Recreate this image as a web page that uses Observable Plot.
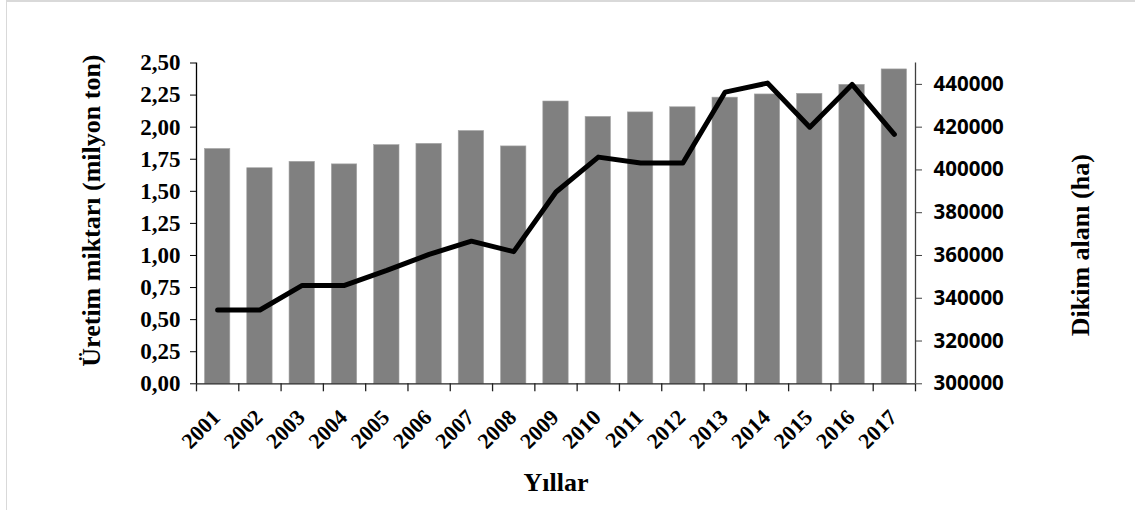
<!DOCTYPE html>
<html>
<head>
<meta charset="utf-8">
<script src="https://cdn.jsdelivr.net/npm/d3@7"></script>
<script src="https://cdn.jsdelivr.net/npm/@observablehq/plot@0.6"></script>
<style>
  html, body { margin: 0; padding: 0; background: #fff; }
  #wrap { position: relative; width: 1135px; height: 510px; }
  #border { position: absolute; left: 6px; top: 0; width: 1129px; height: 510px;
            border-left: 1.5px solid #d9d9d9; border-top: 2px solid #d9d9d9; box-sizing: border-box; pointer-events: none; }
</style>
</head>
<body>
<div id="wrap"><div id="border"></div></div>
<script>
const years = [2001, 2002, 2003, 2004, 2005, 2006, 2007, 2008, 2009, 2010, 2011, 2012, 2013, 2014, 2015, 2016, 2017];
const production = [1.83, 1.68, 1.73, 1.71, 1.86, 1.87, 1.97, 1.85, 2.20, 2.08, 2.115, 2.155, 2.23, 2.255, 2.26, 2.33, 2.45];
const area = [334500, 334500, 346000, 346000, 353000, 360500, 366700, 361800, 389700, 406000, 403200, 403200, 436400, 440600, 420000, 440000, 416600];
const leftTicks = [0, 0.25, 0.5, 0.75, 1, 1.25, 1.5, 1.75, 2, 2.25, 2.5];
const rightTicks = [300000, 320000, 340000, 360000, 380000, 400000, 420000, 440000];
const leftDomain = [0, 2.5];
const rightDomain = [300000, 450000];

const leftTitle = "Üretim miktarı (milyon ton)";
const rightTitle = "Dikim alanı (ha)";
const xTitle = "Yıllar";

// map right-axis values into the left (primary) y domain
const toY = v => (v - rightDomain[0]) / (rightDomain[1] - rightDomain[0]) * (leftDomain[1] - leftDomain[0]) + leftDomain[0];
const fromY = y => (y - leftDomain[0]) / (leftDomain[1] - leftDomain[0]) * (rightDomain[1] - rightDomain[0]) + rightDomain[0];

const data = years.map((year, i) => ({year, prod: production[i], area: area[i]}));
const boundaries = [years[0] - 0.5, ...years.map(y => y + 0.5)];
const xDomain = [years[0] - 0.5, years[years.length - 1] + 0.5];

const serif = "'Liberation Serif', 'Times New Roman', serif";
const sans = "'Open Sans', 'Noto Sans', sans-serif";

const chart = Plot.plot({
  width: 1135,
  height: 510,
  marginLeft: 196,
  marginRight: 220,
  marginTop: 62.5,
  marginBottom: 126.7,
  x: {type: "linear", domain: xDomain},
  y: {domain: leftDomain},
  style: {background: "transparent", overflow: "visible"},
  marks: [
    Plot.rectY(data, {x1: d => d.year - 0.3, x2: d => d.year + 0.3, y1: 0, y2: "prod", fill: "#808080", stroke: "#a6a6a6", strokeWidth: 0.6}),
    Plot.ruleY([0], {stroke: "#222", strokeWidth: 1.3}),
    Plot.ruleX([xDomain[0]], {y1: leftDomain[0], y2: leftDomain[1], stroke: "#000", strokeWidth: 1.3}),
    Plot.ruleX([xDomain[1]], {y1: leftDomain[0], y2: leftDomain[1], stroke: "#404040", strokeWidth: 1.3}),
    Plot.line(data, {x: "year", y: d => toY(d.area), stroke: "#000", strokeWidth: 5, strokeLinejoin: "round", strokeLinecap: "round"}),
    Plot.axisX({ticks: boundaries, tickSize: 8, tickFormat: () => "", label: null, stroke: "#222", strokeWidth: 1.3}),
    Plot.text(years, {x: d => d, text: d => String(d), frameAnchor: "bottom", rotate: -45, textAnchor: "end",
      dx: 4, dy: 35, fontFamily: serif, fontSize: 22, fontWeight: "bold", fill: "#000"}),
    Plot.axisY({anchor: "left", ticks: leftTicks, tickSize: 6, tickPadding: 10, label: null,
      tickFormat: d => d.toFixed(2).replace(".", ","), fontFamily: serif, fontSize: 23, fontWeight: "bold", fill: "#000", stroke: "#000"}),
    Plot.axisY({anchor: "right", ticks: rightTicks.map(toY), tickSize: 6, tickPadding: 12, label: null,
      tickFormat: d => String(Math.round(fromY(d))), fontFamily: sans, fontSize: 20.5, fontWeight: "bold", fill: "#000", stroke: "#404040"}),
    Plot.text([leftTitle], {text: d => d, frameAnchor: "left", textAnchor: "middle", y: () => 1.35, dx: -105, rotate: -90,
      fontFamily: serif, fontSize: 26, fontWeight: "bold", fill: "#000"}),
    Plot.text([rightTitle], {text: d => d, frameAnchor: "right", textAnchor: "middle", y: () => 1.08, dx: 165, rotate: -90,
      fontFamily: serif, fontSize: 26, fontWeight: "bold", fill: "#000"}),
    Plot.text([xTitle], {text: d => d, frameAnchor: "bottom", x: () => 2009, dy: 107,
      fontFamily: serif, fontSize: 26, fontWeight: "bold", fill: "#000"})
  ]
});
document.getElementById("wrap").prepend(chart);
</script>
</body>
</html>
